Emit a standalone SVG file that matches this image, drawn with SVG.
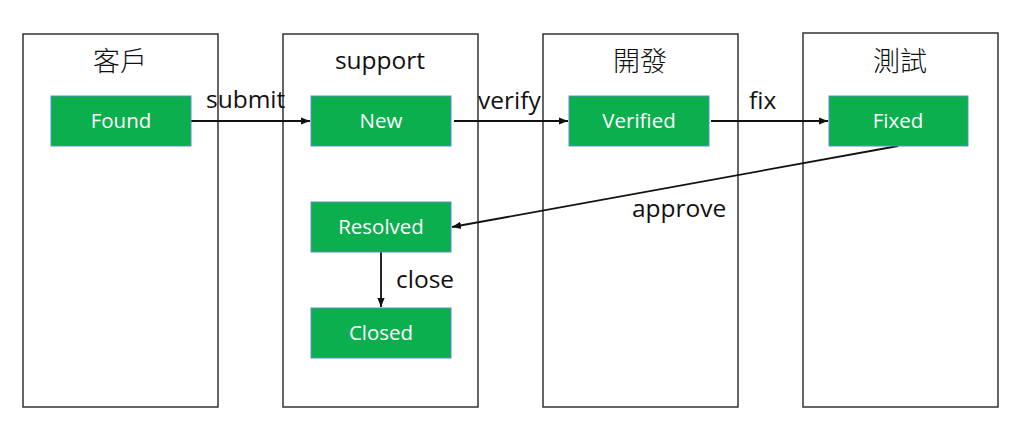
<svg xmlns="http://www.w3.org/2000/svg" width="1024" height="434" viewBox="0 0 1024 434">
<style>
.lane{fill:#fff;stroke:#333;stroke-width:1.5}
.title{font-family:"Open Sans","Noto Sans CJK TC",sans-serif;font-size:24.5px;fill:#111;text-anchor:middle}
.cjk{font-family:"Noto Sans CJK TC",sans-serif;font-size:27px;font-weight:300}
.node rect{fill:#0baf4e;stroke:#5b8fc7;stroke-width:1}
.node text{font-family:"Open Sans","Noto Sans",sans-serif;font-size:20.5px;fill:#fff;text-anchor:middle}
.edge{stroke:#111;stroke-width:1.8;fill:none;marker-end:url(#ah)}
.lbl{font-family:"Open Sans","Noto Sans",sans-serif;font-size:24.5px;fill:#111;font-variant-ligatures:none}
</style>
<defs>
<marker id="ah" viewBox="0 0 10 10" refX="10" refY="5" markerWidth="5" markerHeight="5" orient="auto" markerUnits="strokeWidth">
<path d="M0,1 L10,5 L0,9 z" fill="#111"/>
</marker>
</defs>
<rect width="1024" height="434" fill="#fff"/>
<g id="lanes">
<g id="lane-client"><rect class="lane" x="23" y="34" width="195" height="373"/><text class="title cjk" x="120" y="71">客戶</text></g>
<g id="lane-support"><rect class="lane" x="283" y="34" width="195" height="373"/><text class="title" x="380" y="69">support</text></g>
<g id="lane-dev"><rect class="lane" x="543" y="34" width="195" height="373"/><text class="title cjk" x="640" y="71">開發</text></g>
<g id="lane-test"><rect class="lane" x="803" y="33" width="195" height="374"/><text class="title cjk" x="900" y="71">測試</text></g>
</g>
<g id="connectors">
<line class="edge" x1="191" y1="121" x2="310" y2="121"/>
<line class="edge" x1="454" y1="121" x2="568" y2="121"/>
<line class="edge" x1="711" y1="121" x2="828" y2="121"/>
<line class="edge" x1="898" y1="146" x2="452" y2="227"/>
<line class="edge" x1="381" y1="252" x2="381" y2="307"/>
<text class="lbl" x="206" y="108">submit</text>
<text class="lbl" x="478" y="109">verify</text>
<text class="lbl" x="749" y="109">fix</text>
<text class="lbl" x="632" y="217">approve</text>
<text class="lbl" x="396" y="288">close</text>
</g>
<g id="node-found" class="node"><rect x="51" y="96" width="140" height="50"/><text x="121" y="128">Found</text></g>
<g id="node-new" class="node"><rect x="311" y="96" width="140" height="50"/><text x="381" y="128">New</text></g>
<g id="node-verified" class="node"><rect x="569" y="96" width="140" height="50"/><text x="639" y="128">Verified</text></g>
<g id="node-fixed" class="node"><rect x="829" y="96" width="139" height="50"/><text x="898" y="128">Fixed</text></g>
<g id="node-resolved" class="node"><rect x="311" y="202" width="140" height="50"/><text x="381" y="234">Resolved</text></g>
<g id="node-closed" class="node"><rect x="311" y="308" width="140" height="50"/><text x="381" y="340">Closed</text></g>
</svg>
